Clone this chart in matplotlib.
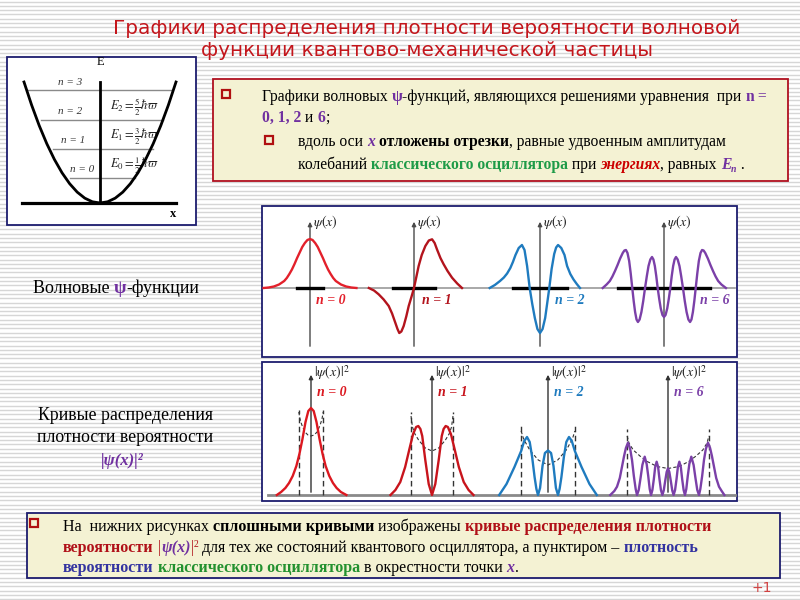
import numpy as np
import matplotlib
matplotlib.use("Agg")
import matplotlib.pyplot as plt
from matplotlib.patches import Rectangle

plt.rcParams['mathtext.fontset'] = 'stix'
SERIF = 'Liberation Serif'

# ---------------- data ----------------
# wave functions psi_n(xi); xi in oscillator units, psi in arbitrary units
psi0_x = [-3.6, -3.2, -2.8, -2.4, -2.0, -1.8, -1.6, -1.4, -1.2, -1.0, -0.8, -0.6, -0.4, -0.2, 0,
          0.2, 0.4, 0.6, 0.8, 1.0, 1.2, 1.4, 1.6, 1.8, 2.0, 2.4, 2.8, 3.2, 3.6]
psi0_y = [0, 0.05, 0.15, 0.35, 0.7, 1.0, 1.4, 1.85, 2.4, 3.0, 3.55, 4.1, 4.5, 4.8, 4.9,
          4.8, 4.5, 4.1, 3.55, 3.0, 2.4, 1.85, 1.4, 1.0, 0.7, 0.35, 0.15, 0.05, 0]
psi1_x = [-3.5, -3.1, -2.74, -2.35, -1.96, -1.7, -1.45, -1.28, -1.14, -0.98, -0.8, -0.6, -0.41, -0.2, 0,
          0.18, 0.36, 0.6, 0.88, 1.15, 1.4, 1.6, 1.78, 2.05, 2.3, 2.6, 2.95, 3.35, 3.72]
psi1_y = [0, -0.25, -0.63, -1.15, -1.8, -2.55, -3.47, -4.1, -4.5, -4.35, -3.8, -2.85, -1.8, -0.9, 0,
          1.1, 2.2, 3.3, 4.2, 4.75, 4.87, 4.5, 3.87, 3.0, 2.37, 1.7, 1.03, 0.45, 0]
psi2_x = [-3.9, -3.5, -3.1, -2.8, -2.55, -2.3, -2.1, -1.9, -1.65, -1.4, -1.2, -1.0, -0.8, -0.6, -0.4, -0.2,
          0, 0.2, 0.4, 0.55, 0.72, 0.9, 1.1, 1.25, 1.4, 1.65, 1.9, 2.1, 2.35, 2.6, 2.85, 3.1]
psi2_y = [0, 0.3, 0.7, 1.05, 1.45, 2.0, 2.6, 3.3, 4.0, 4.3, 3.8, 2.2, 0, -1.6, -3.0, -4.1,
          -4.5, -4.1, -3.0, -1.6, 0, 1.9, 3.4, 4.05, 4.3, 4.0, 3.3, 2.2, 1.4, 0.85, 0.4, 0]
psi6_x = [-4.75, -4.45, -4.2, -4.0, -3.8, -3.6, -3.4, -3.2, -3.07, -2.95, -2.83, -2.7, -2.58, -2.46,
          -2.35, -2.24, -2.13, -2.02, -1.89, -1.75, -1.61, -1.47, -1.33, -1.2, -1.06, -0.93, -0.82,
          -0.71, -0.6, -0.49, -0.37, -0.25, -0.12, 0, 0.12, 0.25, 0.37, 0.49, 0.6, 0.71, 0.82, 0.93,
          1.06, 1.2, 1.33, 1.47, 1.61, 1.75, 1.89, 2.02, 2.13, 2.24, 2.35, 2.46, 2.58, 2.7, 2.83,
          2.95, 3.07, 3.2, 3.4, 3.6, 3.8, 4.0, 4.2, 4.45, 4.8]
psi6_y = [0, 0.35, 0.7, 1.15, 1.7, 2.3, 2.95, 3.5, 3.75, 3.8, 3.5, 2.7, 1.45, 0,
          -1.3, -2.4, -3.15, -3.4, -3.15, -2.4, -1.3, 0, 1.2, 2.2, 2.85, 3.1, 2.85,
          2.2, 1.2, 0, -1.1, -2.05, -2.7, -2.9, -2.7, -2.05, -1.1, 0, 1.2, 2.2, 2.85, 3.1,
          2.85, 2.2, 1.2, 0, -1.3, -2.4, -3.15, -3.4, -3.15, -2.4, -1.3, 0, 1.45, 2.7, 3.5,
          3.8, 3.75, 3.5, 2.95, 2.3, 1.7, 1.15, 0.7, 0.35, 0]

# probability densities |psi_n|^2
dens0_x = [-2.8, -2.45, -2.1, -1.8, -1.5, -1.2, -0.95, -0.7, -0.45, -0.22, 0,
           0.22, 0.45, 0.7, 0.95, 1.2, 1.5, 1.8, 2.1, 2.45, 2.9]
dens0_y = [0, 0.3, 0.7, 1.2, 1.9, 2.9, 4.1, 5.6, 7.3, 8.4, 8.7,
           8.4, 7.3, 5.6, 4.1, 2.9, 1.9, 1.2, 0.7, 0.3, 0]
dens1_x = [-3.4, -3.0, -2.6, -2.2, -1.85, -1.55, -1.3, -1.12, -0.95, -0.8, -0.55, -0.27, 0,
           0.27, 0.55, 0.8, 0.95, 1.12, 1.3, 1.55, 1.85, 2.2, 2.6, 3.0, 3.4]
dens1_y = [0, 0.5, 1.3, 2.8, 4.6, 6.1, 6.8, 6.9, 6.6, 5.9, 3.5, 1.1, 0,
           1.1, 3.5, 5.9, 6.6, 6.9, 6.8, 6.1, 4.6, 2.8, 1.3, 0.5, 0]
dens2_x = [-4.0, -3.4, -2.75, -2.2, -1.95, -1.72, -1.5, -1.3, -1.1, -0.95, -0.82, -0.65, -0.45, -0.25, 0,
           0.25, 0.45, 0.65, 0.82, 0.95, 1.1, 1.3, 1.5, 1.72, 1.95, 2.2, 2.75, 3.4, 4.0]
dens2_y = [0, 1.1, 2.8, 4.4, 5.4, 5.8, 5.3, 3.8, 1.8, 0.6, 0, 0.7, 2.9, 4.2, 4.45,
           4.2, 2.9, 0.7, 0, 0.6, 1.8, 3.8, 5.3, 5.8, 5.4, 4.4, 2.8, 1.1, 0]
dens6_x = [-4.73, -4.4, -4.18, -3.95, -3.77, -3.6, -3.45, -3.28, -3.1, -2.95, -2.8, -2.65, -2.54,
           -2.4, -2.25, -2.1, -1.91, -1.75, -1.62, -1.5, -1.39, -1.28, -1.16, -1.05, -0.93, -0.81,
           -0.7, -0.58, -0.46, -0.35, -0.23, -0.11, 0, 0.11, 0.23, 0.35, 0.46, 0.58, 0.7, 0.81,
           0.93, 1.05, 1.16, 1.28, 1.39, 1.5, 1.62, 1.75, 1.91, 2.1, 2.25, 2.4, 2.54, 2.65, 2.8,
           2.95, 3.1, 3.28, 3.45, 3.6, 3.77, 3.95, 4.18, 4.4, 4.62]
dens6_y = [0, 0.4, 0.83, 1.7, 2.83, 3.9, 4.7, 5.23, 4.6, 3.5, 1.9, 0.6, 0,
           0.5, 1.7, 3.0, 3.83, 3.1, 1.9, 0.6, 0, 0.5, 1.6, 2.8, 3.33, 2.8,
           1.6, 0.5, 0, 0.45, 1.4, 2.3, 2.67, 2.3, 1.4, 0.45, 0, 0.5, 1.6, 2.8,
           3.33, 2.8, 1.6, 0.5, 0, 0.6, 1.9, 3.1, 3.83, 3.0, 1.7, 0.5, 0, 0.6, 1.9,
           3.5, 4.6, 5.23, 4.7, 3.9, 2.83, 1.7, 0.83, 0.4, 0]

# classical oscillator density (dashed)
cls0_x = [-1.0, -0.9, -0.75, -0.5, -0.25, 0, 0.25, 0.5, 0.75, 0.9, 1.0]
cls0_y = [8.3, 7.6, 7.0, 6.3, 6.0, 5.9, 6.0, 6.3, 7.0, 7.6, 8.3]
cls1_x = [-1.72, -1.6, -1.4, -1.1, -0.55, 0, 0.55, 1.1, 1.4, 1.6, 1.72]
cls1_y = [7.9, 6.8, 6.1, 5.5, 4.7, 4.4, 4.7, 5.5, 6.1, 6.8, 7.9]
cls2_x = [-2.2, -2.0, -1.5, -0.8, 0, 0.8, 1.5, 2.0, 2.2]
cls2_y = [6.4, 5.6, 4.5, 3.5, 3.0, 3.5, 4.5, 5.6, 6.4]
cls6_x = [-3.35, -3.2, -2.85, -2.3, -1.7, -0.9, 0, 0.9, 1.7, 2.3, 2.85, 3.2, 3.35]
cls6_y = [5.9, 5.2, 4.5, 3.9, 3.35, 2.85, 2.65, 2.85, 3.35, 3.9, 4.5, 5.2, 5.9]

state_labels = ["n = 0", "n = 1", "n = 2", "n = 6"]
amp_psi = [1.0, 1.6, 2.1, 3.6]       # thick black segments (upper panel)
amp_dens = [1.02, 1.76, 2.25, 3.4]   # dashed turning-point lines (lower panel)
top_dens = [8.5, 8.3, 7.0, 6.6]
psi_colors = ['#e3202b', '#b3141d', '#1f7bbf', '#7b40a8']
dens_colors = ['#dc1820', '#c8141c', '#1f7bbf', '#7b40a8']

# potential well (inset)
well_x = [-1.0, -0.9, -0.8, -0.7, -0.6, -0.5, -0.4, -0.3, -0.2, -0.1, 0,
          0.1, 0.2, 0.3, 0.4, 0.5, 0.6, 0.7, 0.8, 0.9, 1.0]
well_u = [1.0, 0.81, 0.64, 0.49, 0.36, 0.25, 0.16, 0.09, 0.04, 0.01, 0,
          0.01, 0.04, 0.09, 0.16, 0.25, 0.36, 0.49, 0.64, 0.81, 1.0]
level_e = [0.21, 0.45, 0.69, 0.93]
level_lo = [-0.4, -0.62, -0.78, -0.95]
level_hi = [0.46, 0.7, 0.83, 0.93]
level_names = ["n = 0", "n = 1", "n = 2", "n = 3"]
level_energy = [r'$E_0=\frac{1}{2}\hbar\varpi$', r'$E_1=\frac{3}{2}\hbar\varpi$',
                r'$E_2=\frac{5}{2}\hbar\varpi$']

# ---------------- figure ----------------
fig = plt.figure(figsize=(8, 6), dpi=100)
fig.patch.set_facecolor('white')
bg = fig.add_axes([0, 0, 1, 1])
bg.set_xlim(0, 800)
bg.set_ylim(600, 0)
bg.axis('off')
for yy in np.arange(1.5, 600, 4.3):
    bg.axhline(yy, color='#d6d6d6', lw=1.0, zorder=0)

NAVY = '#1c1c6e'
PURPLE = '#7030a0'
GREEN = '#1e9b48'
DRED = '#b01018'
BLUE = '#3333a0'


def box(x, y, w, h, fc, ec, lw=1.3):
    bg.add_patch(Rectangle((x, y), w, h, facecolor=fc, edgecolor=ec, lw=lw, zorder=1))


def bullet(x, y):
    bg.add_patch(Rectangle((x, y), 8, 8, facecolor='none', edgecolor='#b01010', lw=1.6, zorder=5))


renderer = fig.canvas.get_renderer()


def rich(x, y, parts, size=11):
    # draw text pieces one after another on a baseline
    for p in parts:
        s, c = p[0], p[1]
        kw = dict(p[2]) if len(p) > 2 else {}
        dy = kw.pop('dy', 0)
        sz = kw.pop('size', size)
        fam = kw.pop('family', SERIF)
        probe = bg.text(x, y, s + '|', fontsize=sz, family=fam, **kw)
        w1 = probe.get_window_extent(renderer=renderer).width
        probe.set_text('|')
        w2 = probe.get_window_extent(renderer=renderer).width
        probe.remove()
        bg.text(x, y + dy, s, color=c, fontsize=sz, family=fam, va='baseline',
                ha='left', zorder=6, **kw)
        x += w1 - w2


# title
bg.text(427, 28, "Графики распределения плотности вероятности волновой", ha='center', va='center',
        fontsize=14.4, color='#c4161c', family='DejaVu Sans', zorder=6)
bg.text(427, 51, "функции квантово-механической частицы", ha='center', va='center',
        fontsize=14.4, color='#c4161c', family='DejaVu Sans', zorder=6)

# boxes
box(7, 57, 189, 168, 'white', NAVY)
box(213, 79, 575, 102, '#f4f2d3', '#b01020')
box(262, 206, 475, 151, 'white', NAVY)
box(262, 362, 475, 139, 'white', NAVY)
box(27, 513, 753, 65, '#f4f2d3', NAVY)

B = {'weight': 'bold'}
BI = {'weight': 'bold', 'style': 'italic'}

# upper text box
bullet(222, 90)
rich(262, 101, [("Графики волновых ", 'black'), ("ψ", PURPLE, B),
                ("-функций, являющихся решениями уравнения  при ", 'black'),
                ("n", PURPLE, B), (" =", PURPLE)], size=11.25)
rich(262, 122, [("0, 1, 2", PURPLE, B), (" и ", 'black'), ("6", PURPLE, B), (";", 'black')], size=11.25)
bullet(265, 136)
rich(298, 146, [("вдоль оси ", 'black'), ("x", PURPLE, BI), (" ", 'black'),
                ("отложены отрезки", 'black', B), (", равные удвоенным амплитудам", 'black')], size=11.25)
rich(298, 169, [("колебаний ", 'black'), ("классического осциллятора", GREEN, B),
                (" при ", 'black'), ("энергиях", '#cc0000', BI), (", равных ", 'black'),
                ("E", PURPLE, BI), ("n", PURPLE, dict(BI, size=7, dy=3)), (" .", 'black')], size=11.25)

# lower text box
bullet(30, 519)
rich(63, 531, [("На  нижних рисунках ", 'black'), ("сплошными кривыми", 'black', B),
               (" изображены ", 'black'), ("кривые распределения плотности", DRED, B)], size=11.5)
rich(63, 552, [("вероятности", DRED, B), (" |", DRED), ("ψ(x)", PURPLE, BI), ("|", DRED),
               ("2", DRED, dict(size=7, dy=-5)),
               (" для тех же состояний квантового осциллятора, а пунктиром – ", 'black'),
               ("плотность", BLUE, B)], size=11.5)
rich(63, 572, [("вероятности", BLUE, B), (" ", 'black'), ("классического осциллятора", '#23912f', B),
               (" в окрестности точки ", 'black'), ("x", PURPLE, BI), (".", 'black')], size=11.5)

bg.text(762, 588, "+1", color='#d04040', fontsize=10, ha='center', va='center', zorder=6)

# left labels
rich(33, 293, [("Волновые ", 'black', {'size': 13}), ("ψ", PURPLE, dict(B, size=13)),
               ("-функции", 'black', {'size': 13})])
bg.text(126, 415, "Кривые распределения", ha='center', va='center', fontsize=12.8, family=SERIF, zorder=6)
bg.text(125, 437, "плотности вероятности", ha='center', va='center', fontsize=12.8, family=SERIF, zorder=6)
bg.text(122, 461, "|ψ(x)|²", ha='center', va='center', fontsize=12, family=SERIF, color=PURPLE,
        weight='bold', style='italic', zorder=6)

# x-axis lines of the two panels
bg.plot([265, 735], [288, 288], color='#9a9a9a', lw=1.2, zorder=2)
bg.plot([268, 735], [495, 495], color='#8a8a8a', lw=2.0, zorder=2)


def px_axes(cx, cy, ux, uy, xlim, ylim):
    left = cx + xlim[0] * ux
    w = (xlim[1] - xlim[0]) * ux
    bottom = cy - ylim[0] * uy
    h = (ylim[1] - ylim[0]) * uy
    ax = fig.add_axes([left / 800, (600 - bottom) / 600, w / 800, h / 600])
    ax.set_xlim(*xlim)
    ax.set_ylim(*ylim)
    ax.axis('off')
    ax.patch.set_alpha(0)
    return ax


# upper panel: wave functions
psi_x = [psi0_x, psi1_x, psi2_x, psi6_x]
psi_y = [psi0_y, psi1_y, psi2_y, psi6_y]
psi_cx = [310, 414, 540, 664]
lab_dx = [0.45, 0.6, 1.16, 2.8]
for i in range(4):
    ax = px_axes(psi_cx[i], 288, 12.9, 10, (-5, 5), (-6.5, 7.5))
    ax.annotate('', xy=(0, 6.9), xytext=(0, -6.1),
                arrowprops=dict(arrowstyle='-|>', color='#4a4a4a', lw=1.0, mutation_scale=6))
    ax.plot([-amp_psi[i], amp_psi[i]], [0, 0], color='black', lw=2.4, zorder=3)
    ax.plot(psi_x[i], psi_y[i], color=psi_colors[i], lw=1.7, zorder=4, solid_joinstyle='round')
    ax.text(0.25, 6.6, r'$\psi(x)$', fontsize=10, va='center', ha='left', color='#222222')
    ax.text(lab_dx[i], -1.3, state_labels[i], fontsize=10, va='center', ha='left',
            color=psi_colors[i], family=SERIF, weight='bold', style='italic')

# lower panel: probability densities
dens_x = [dens0_x, dens1_x, dens2_x, dens6_x]
dens_y = [dens0_y, dens1_y, dens2_y, dens6_y]
cls_x = [cls0_x, cls1_x, cls2_x, cls6_x]
cls_y = [cls0_y, cls1_y, cls2_y, cls6_y]
dens_cx = [311, 432, 548, 668]
for i in range(4):
    ax = px_axes(dens_cx[i], 495, 12.2, 10, (-5, 5), (-0.5, 13))
    ax.annotate('', xy=(0, 12.3), xytext=(0, 0),
                arrowprops=dict(arrowstyle='-|>', color='#333333', lw=1.0, mutation_scale=6))
    for s in (-1, 1):
        ax.plot([s * amp_dens[i]] * 2, [0, top_dens[i]], color='#333333', lw=1.0,
                ls=(0, (4, 2.5)), zorder=3)
    ax.plot(cls_x[i], cls_y[i], color='#333333', lw=0.8, ls=(0, (3, 2)), zorder=3)
    ax.plot(dens_x[i], dens_y[i], color=dens_colors[i], lw=1.7, zorder=4, solid_joinstyle='round')
    ax.text(0.25, 12.2, r'$|\psi(x)|^2$', fontsize=10, va='center', ha='left', color='#222222')
    ax.text(0.5, 10.3, state_labels[i], fontsize=10, va='center', ha='left',
            color=dens_colors[i], family=SERIF, weight='bold', style='italic')

# inset: potential well with energy levels
axw = px_axes(100, 203, 76, 121, (-1.224, 1.263), (-0.182, 1.207))
axw.plot([-1.03, 1.0], [0, 0], color='black', lw=2.3, zorder=3)
axw.plot([0, 0], [0, 1.0], color='black', lw=2.0, zorder=3)
for i in range(4):
    axw.plot([level_lo[i], level_hi[i]], [level_e[i], level_e[i]], color='#8a8a8a', lw=1.0, zorder=2)
axw.plot(well_x, well_u, color='black', lw=2.0, zorder=4)
name_x = [-0.24, -0.35, -0.39, -0.39]
for i in range(4):
    axw.text(name_x[i], level_e[i] + 0.065, level_names[i], ha='center', va='center',
             fontsize=8, style='italic', family=SERIF, color='#333333')
for i in range(3):
    axw.text(0.13, level_e[i] + 0.1, level_energy[i], ha='left', va='center', fontsize=9,
             color='#222222')
axw.text(0, 1.165, 'E', ha='center', va='center', fontsize=9, family=SERIF)
axw.text(0.96, -0.09, 'x', ha='center', va='center', fontsize=9, family=SERIF, weight='bold')

fig.savefig('out.png', dpi=100)
